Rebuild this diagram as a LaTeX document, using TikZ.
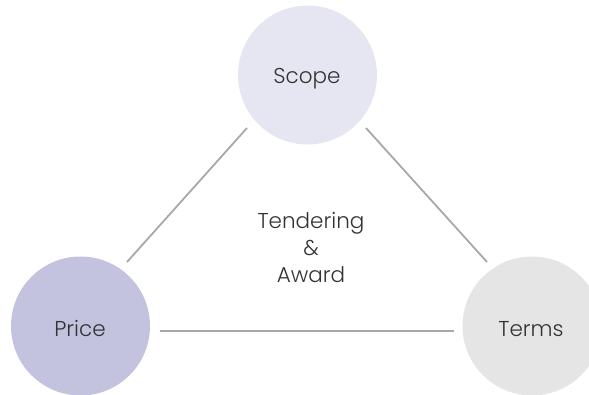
\documentclass[tikz,border=0pt]{standalone}
\usepackage{fontspec}
\setmainfont{Poppins}[UprightFont=* Light]
\definecolor{scopecol}{HTML}{E6E6F2}
\definecolor{pricecol}{HTML}{C3C2DF}
\definecolor{termscol}{HTML}{E5E5E5}
\definecolor{linecol}{HTML}{A8A8A8}
\definecolor{txtcol}{HTML}{333333}
\tikzset{
  ball/.style={circle, minimum size=139pt, inner sep=0pt},
  label/.style={text=txtcol, font=\fontsize{21.5}{24}\selectfont},
  link/.style={draw=linecol, line width=1.8pt},
}
\begin{document}
\begin{tikzpicture}[x=1pt,y=-1pt]
\useasboundingbox (0,0) rectangle (589,395);
\node[ball, fill=scopecol] (scope) at (307.5,75) {};
\node[ball, fill=pricecol] (price) at (80.5,326) {};
\node[ball, fill=termscol] (terms) at (532,326) {};
\node[label] (scopet) at (307,79) {Scope};
\node[label] (pricet) at (80,329) {Price};
\node[label] (termst) at (531,329) {Terms};
\node[label, align=center, font=\fontsize{21.5}{27}\selectfont] (center) at (311,248) {Tendering\\\&\\Award};
\coordinate (sp1) at (247,128);
\coordinate (sp2) at (127,262);
\coordinate (st1) at (366,128);
\coordinate (st2) at (487,262);
\coordinate (pt1) at (160,331);
\coordinate (pt2) at (454,331);
\draw[link] (sp1) -- (sp2);
\draw[link] (st1) -- (st2);
\draw[link] (pt1) -- (pt2);
\end{tikzpicture}
\end{document}
